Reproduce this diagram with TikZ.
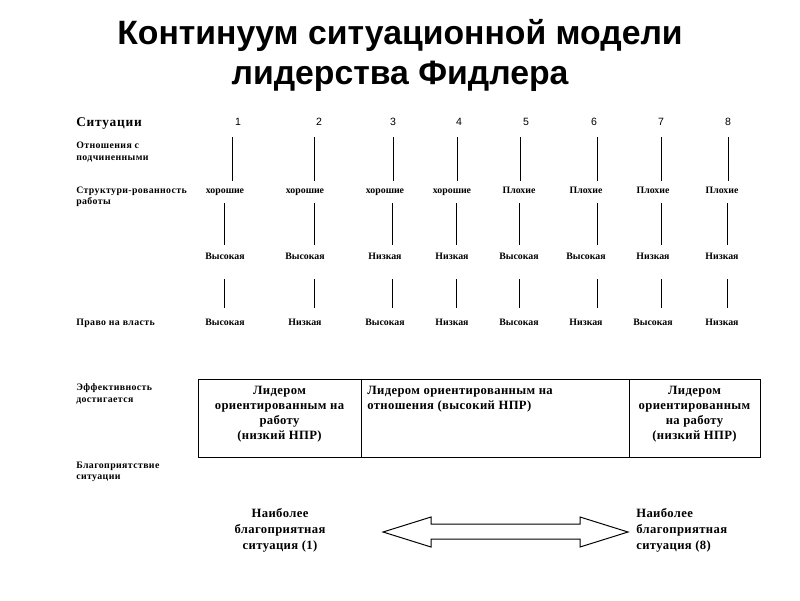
\documentclass[tikz,border=0pt]{standalone}
\usepackage{fontspec}
\setmainfont{Liberation Serif}
\setsansfont{Liberation Sans}
\usetikzlibrary{positioning,calc}
\tikzset{
	lbl/.style={font=\fontsize{7}{8}\selectfont\bfseries\addfontfeature{LetterSpace=4}, inner sep=0pt, align=left, anchor=west},
	cval/.style={font=\fontsize{7}{8}\selectfont\bfseries, inner sep=0pt, text height=5pt, text depth=1.5pt},
	num/.style={font=\sffamily\fontsize{7.5}{9}\selectfont, inner sep=0pt},
	boxtext/.style={font=\fontsize{9}{10.7}\selectfont\bfseries\addfontfeature{LetterSpace=3}, inner sep=0pt, anchor=north},
	tick/.style={line width=0.6pt},
	frame/.style={line width=0.7pt},
}

\begin{document}
\begin{tikzpicture}[x=0.025cm, y=-0.025cm]
		\useasboundingbox (0,0) rectangle (800,600);
		% Title:
		\node[font=\sffamily\bfseries\fontsize{24}{28.4}\selectfont, align=center] (title) at (400,55) {Континуум ситуационной модели\\лидерства Фидлера};
		% Row labels:
		\node[lbl, font=\fontsize{9.5}{11}\selectfont\bfseries\addfontfeature{LetterSpace=6}] (sit) at (76,124) {Ситуации};
		\node[lbl] (rel) at (76,152) {Отношения с\\подчиненными};
		\node[lbl] (str) at (76,197) {Структури-рованность\\работы};
		\node[lbl] (pow) at (76,323) {Право на власть};
		\node[lbl] (eff) at (76,394) {Эффективность\\достигается};
		\node[lbl] (fav) at (76,472) {Благоприятствие\\ситуации};
		% Columns, values and wires:
		\foreach \i/\nx/\cx/\ux/\lx/\rl/\st/\pw in {
				1/238/225/232/224/хорошие/Высокая/Высокая,
				2/319/305/314/314/хорошие/Высокая/Низкая,
				3/393/385/393/392/хорошие/Низкая/Высокая,
				4/459/452/457/456/хорошие/Низкая/Низкая,
				5/526/519/520/519/Плохие/Высокая/Высокая,
				6/594/586/597/597/Плохие/Высокая/Низкая,
				7/661/653/661/661/Плохие/Низкая/Высокая,
				8/728/722/728/727/Плохие/Низкая/Низкая} {
			\node[num] (n\i) at (\nx,122) {\i};
			\coordinate (u\i) at (\ux,0);
			\coordinate (c\i) at (\lx,0);
			\node[cval] (g\i) at (\cx,191) {\rl};
			\node[cval] (s\i) at (\cx,257) {\st};
			\node[cval] (p\i) at (\cx,323) {\pw};
			\draw[tick] ($(u\i |- n\i)+(0,15)$) -- ($(u\i |- g\i)+(0,-10)$);
			\draw[tick] ($(c\i |- g\i)+(0,12)$) -- ($(c\i |- s\i)+(0,-12)$);
			\draw[tick] ($(c\i |- s\i)+(0,22)$) -- ($(c\i |- p\i)+(0,-15)$);
		}
		% Effectiveness table:
		\draw[frame] (198,379) rectangle (760,457);
		\draw[frame] (361,379) -- (361,457);
		\draw[frame] (629,379) -- (629,457);
		\node[boxtext, align=center] (lead1) at (279.5,386) {Лидером\\ориентированным на\\работу\\(низкий НПР)};
		\node[boxtext, align=left, anchor=north west] (lead2) at (367,386) {Лидером ориентированным на\\отношения (высокий НПР)};
		\node[boxtext, align=center] (lead3) at (694.5,386) {Лидером\\ориентированным\\на работу\\(низкий НПР)};
		% Most favourable situations:
		\node[boxtext, anchor=center, align=center, font=\fontsize{9}{11.4}\selectfont\bfseries\addfontfeature{LetterSpace=3}] (best1) at (280,530) {Наиболее\\благоприятная\\ситуация (1)};
		\node[boxtext, anchor=west, align=left, font=\fontsize{9}{11.4}\selectfont\bfseries\addfontfeature{LetterSpace=3}] (best8) at (636,530) {Наиболее\\благоприятная\\ситуация (8)};
		\draw[frame] (383,532) -- (431,517) -- (431,524) -- (580,524) -- (580,517) -- (628,532)
			-- (580,547) -- (580,539) -- (431,539) -- (431,547) -- cycle;
	\end{tikzpicture}
\end{document}
